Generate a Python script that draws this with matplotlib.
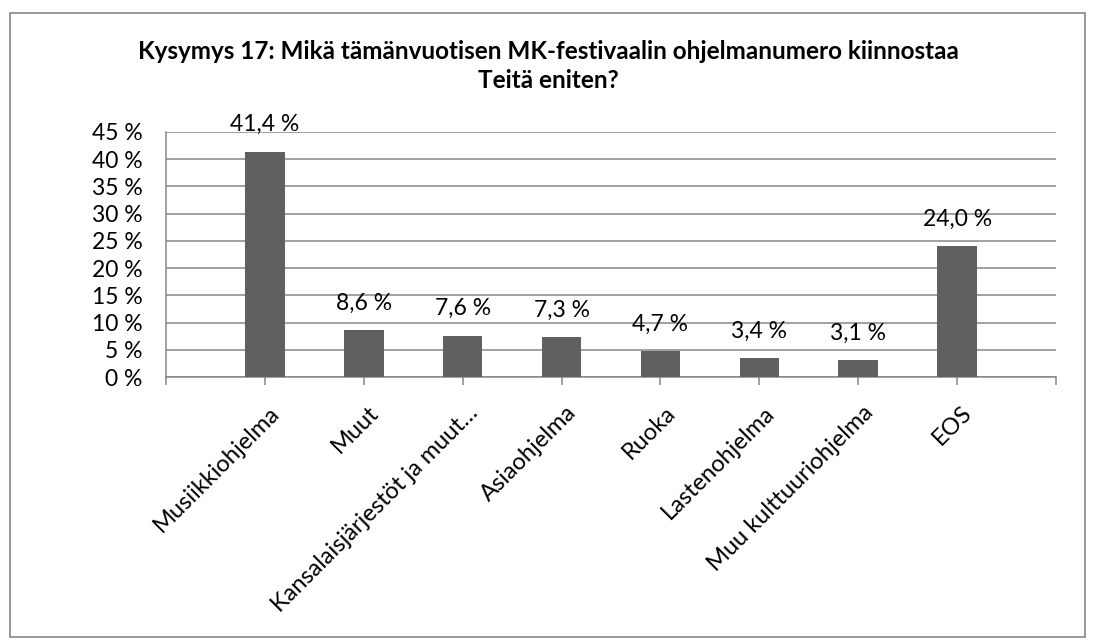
import matplotlib.pyplot as plt
from matplotlib.patches import Rectangle
import matplotlib.transforms as mtransforms

categories = ["Musiikkiohjelma", "Muut", "Kansalaisjärjestöt ja muut…", "Asiaohjelma",
              "Ruoka", "Lastenohjelma", "Muu kulttuuriohjelma", "EOS"]
values = [41.4, 8.6, 7.6, 7.3, 4.7, 3.4, 3.1, 24.0]
yticks = [0, 5, 10, 15, 20, 25, 30, 35, 40, 45]
title = "Kysymys 17: Mikä tämänvuotisen MK-festivaalin ohjelmanumero kiinnostaa\nTeitä eniten?"

plt.rcParams['font.family'] = ['Lato', 'DejaVu Sans']
grid_col = '#868686'

fig = plt.figure(figsize=(10.96, 6.43), dpi=100)
fig.patches.append(Rectangle((10/1096, 1-637/643), 1075/1096, 624/643,
                             transform=fig.transFigure, fill=False,
                             edgecolor=grid_col, linewidth=1.2))
ax = fig.add_axes([166/1096, 1-377/643, 890/1096, 245/643])

x = list(range(len(categories)))
ax.bar(x, values, width=0.4, color='#606060', zorder=3)
for xi, v in zip(x, values):
    ax.annotate(f"{v:.1f} %".replace('.', ','), (xi, v), xytext=(0, 12),
                textcoords='offset points', ha='center', va='bottom', fontsize=16.5)

ax.set_xlim(-1, 8)
ax.set_ylim(0, 45)
ax.set_yticks(yticks)
ax.set_yticklabels([f"{t} %" for t in yticks], fontsize=16.5)
ax.tick_params(axis='y', length=0, pad=17)
ax.yaxis.grid(True, color=grid_col, linewidth=1.1, zorder=0)

ax.set_xticks(range(-1, 9))
ax.set_xticklabels([""] + categories + [""], rotation=45, ha='right', va='top',
                   rotation_mode='anchor', fontsize=17)
ax.tick_params(axis='x', length=6, color=grid_col, width=1.1, direction='out', pad=12)
offset = mtransforms.ScaledTranslation(4/100, 0, fig.dpi_scale_trans)
for lab in ax.get_xticklabels():
    lab.set_transform(lab.get_transform() + offset)

for s in ['top', 'right']:
    ax.spines[s].set_visible(False)
for s in ['left', 'bottom']:
    ax.spines[s].set_color(grid_col)
    ax.spines[s].set_linewidth(1.1)

fig.text(548/1096, 1-66/643, title, ha='center', va='center', fontsize=17.5,
         fontweight='bold', linespacing=1.3)

fig.savefig('out.png', dpi=100)
